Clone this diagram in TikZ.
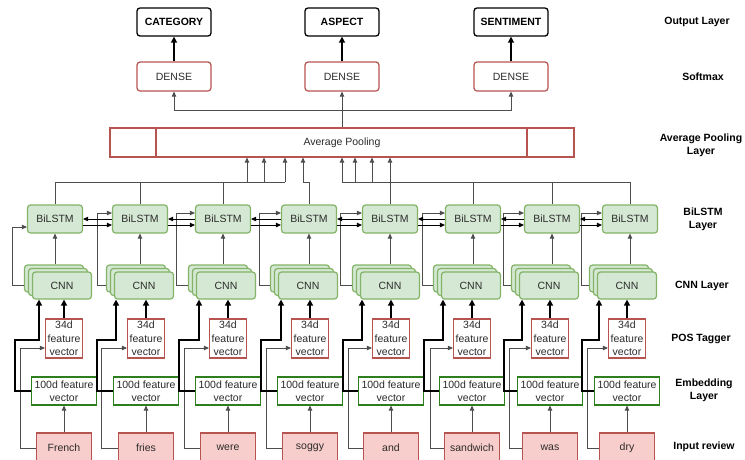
\documentclass[tikz,border=0pt]{standalone}
\usepackage{fontspec}
\setmainfont{Liberation Sans}
\usetikzlibrary{arrows.meta}
\definecolor{greenfill}{HTML}{D5E8D4}
\definecolor{greenline}{HTML}{82B366}
\definecolor{redfill}{HTML}{F8CECC}
\definecolor{redline}{HTML}{B85450}
\definecolor{embline}{HTML}{2D7F1E}
\definecolor{linegray}{HTML}{4D4D4D}
\definecolor{txtgray}{HTML}{2B2B2B}

\begin{document}
\begin{tikzpicture}[x=1pt,y=-1pt,
  every node/.style={inner sep=0pt,text=txtgray,font=\fontsize{10.5}{13.5}\selectfont},
  outbox/.style={draw=black,line width=1.3pt,rounded corners=3pt,fill=white,minimum width=74,minimum height=28,text=black,font=\bfseries\fontsize{10.5}{13.5}\selectfont},
  densebox/.style={draw=redline,line width=1.2pt,rounded corners=3pt,fill=white,minimum width=74,minimum height=29},
  poolbox/.style={draw=redline,line width=1.2pt,fill=white,minimum width=464,minimum height=29},
  bilstm/.style={draw=greenline,fill=greenfill,line width=1.2pt,rounded corners=3pt,minimum width=55,minimum height=28},
  cnnbox/.style={draw=greenline,fill=greenfill,line width=1.2pt,rounded corners=3pt,minimum width=59,minimum height=27},
  posbox/.style={draw=redline,fill=white,line width=1.2pt,minimum width=37,minimum height=39,align=center},
  embbox/.style={draw=embline,fill=white,line width=1.2pt,minimum width=65,minimum height=28,align=center},
  wordbox/.style={draw=redline,fill=redfill,line width=1.2pt,minimum width=55,minimum height=30},
  layerlabel/.style={align=center,text=black,font=\bfseries\fontsize{10.5}{13}\selectfont},
  link/.style={draw=linegray,line width=0.9pt},
  conn/.style={link,-{Triangle[length=5pt,width=4.5pt]}},
  twin/.style={draw=black,line width=1pt,-{Triangle[length=5pt,width=4.5pt]}},
  heavy/.style={draw=black,line width=1.7pt,-{Triangle[length=6pt,width=6pt]}}]
\useasboundingbox (0,0) rectangle (745,459);

% Output Layer
\node[outbox] (category) at (174,22) {CATEGORY};
\node[outbox] (aspect) at (342,22) {ASPECT};
\node[outbox] (sentiment) at (511,22) {SENTIMENT};

% Softmax
\node[densebox] (dense1) at (174,76.5) {DENSE};
\node[densebox] (dense2) at (342,76.5) {DENSE};
\node[densebox] (dense3) at (511,76.5) {DENSE};
\draw[heavy] (dense1) -- (category);
\draw[heavy] (dense2) -- (aspect);
\draw[heavy] (dense3) -- (sentiment);

% Average Pooling
\node[poolbox] (pool) at (342,142.5) {Average Pooling};
\draw[redline,line width=1.2pt] (pool.north -| 156,0) -- (pool.south -| 156,0);
\draw[redline,line width=1.2pt] (pool.north -| 527,0) -- (pool.south -| 527,0);
\draw[conn] (pool) -- (dense2);
\draw[conn] (dense2.south |- 0,110) -| (dense1.south);
\draw[conn] (dense2.south |- 0,110) -| (dense3.south);

% BiLSTM Layer
\node[bilstm] (bil1) at (55,219) {BiLSTM};
\node[bilstm] (bil2) at (140,219) {BiLSTM};
\node[bilstm] (bil3) at (223,219) {BiLSTM};
\node[bilstm] (bil4) at (309,219) {BiLSTM};
\node[bilstm] (bil5) at (390,219) {BiLSTM};
\node[bilstm] (bil6) at (473,219) {BiLSTM};
\node[bilstm] (bil7) at (552,219) {BiLSTM};
\node[bilstm] (bil8) at (630,219) {BiLSTM};

% CNN Layer (stacked)
\node[cnnbox] (cnn1c) at (54,278.5) {};
\node[cnnbox] (cnn1b) at (58,282) {};
\node[cnnbox] (cnn1) at (62,285.5) {CNN};
\node[cnnbox] (cnn2c) at (136,278.5) {};
\node[cnnbox] (cnn2b) at (140,282) {};
\node[cnnbox] (cnn2) at (144,285.5) {CNN};
\node[cnnbox] (cnn3c) at (218,278.5) {};
\node[cnnbox] (cnn3b) at (222,282) {};
\node[cnnbox] (cnn3) at (226,285.5) {CNN};
\node[cnnbox] (cnn4c) at (300,278.5) {};
\node[cnnbox] (cnn4b) at (304,282) {};
\node[cnnbox] (cnn4) at (308,285.5) {CNN};
\node[cnnbox] (cnn5c) at (382,278.5) {};
\node[cnnbox] (cnn5b) at (386,282) {};
\node[cnnbox] (cnn5) at (390,285.5) {CNN};
\node[cnnbox] (cnn6c) at (463,278.5) {};
\node[cnnbox] (cnn6b) at (467,282) {};
\node[cnnbox] (cnn6) at (471,285.5) {CNN};
\node[cnnbox] (cnn7c) at (541,278.5) {};
\node[cnnbox] (cnn7b) at (545,282) {};
\node[cnnbox] (cnn7) at (549,285.5) {CNN};
\node[cnnbox] (cnn8c) at (619,278.5) {};
\node[cnnbox] (cnn8b) at (623,282) {};
\node[cnnbox] (cnn8) at (627,285.5) {CNN};

% POS Tagger
\node[posbox] (pos1) at (64,338.5) {34d\\feature\\vector};
\node[posbox] (pos2) at (146,338.5) {34d\\feature\\vector};
\node[posbox] (pos3) at (228,338.5) {34d\\feature\\vector};
\node[posbox] (pos4) at (310,338.5) {34d\\feature\\vector};
\node[posbox] (pos5) at (391,338.5) {34d\\feature\\vector};
\node[posbox] (pos6) at (472,338.5) {34d\\feature\\vector};
\node[posbox] (pos7) at (550,338.5) {34d\\feature\\vector};
\node[posbox] (pos8) at (627,338.5) {34d\\feature\\vector};

% Embedding Layer
\node[embbox] (emb1) at (64,391) {100d feature\\vector};
\node[embbox] (emb2) at (146,391) {100d feature\\vector};
\node[embbox] (emb3) at (228,391) {100d feature\\vector};
\node[embbox] (emb4) at (310,391) {100d feature\\vector};
\node[embbox] (emb5) at (391,391) {100d feature\\vector};
\node[embbox] (emb6) at (472,391) {100d feature\\vector};
\node[embbox] (emb7) at (550,391) {100d feature\\vector};
\node[embbox] (emb8) at (627,391) {100d feature\\vector};

% Input review
\node[wordbox] (w1) at (64,448) {French};
\node[wordbox] (w2) at (146,448) {fries};
\node[wordbox] (w3) at (228,448) {were};
\node[wordbox] (w4) at (310,448) {soggy};
\node[wordbox] (w5) at (391,448) {and};
\node[wordbox] (w6) at (472,448) {sandwich};
\node[wordbox] (w7) at (550,448) {was};
\node[wordbox] (w8) at (627,448) {dry};

%Straight Lines: input -> embedding
\draw[conn] (w1) -- (emb1);
\draw[conn] (w2) -- (emb2);
\draw[conn] (w3) -- (emb3);
\draw[conn] (w4) -- (emb4);
\draw[conn] (w5) -- (emb5);
\draw[conn] (w6) -- (emb6);
\draw[conn] (w7) -- (emb7);
\draw[conn] (w8) -- (emb8);

%Straight Lines: input -> POS tagger
\draw[conn] (w1.west) -| (20,348) -- (pos1.west |- 0,348);
\draw[conn] (w2.west) -| (101,348) -- (pos2.west |- 0,348);
\draw[conn] (w3.west) -| (184,348) -- (pos3.west |- 0,348);
\draw[conn] (w4.west) -| (266,348) -- (pos4.west |- 0,348);
\draw[conn] (w5.west) -| (348,348) -- (pos5.west |- 0,348);
\draw[conn] (w6.west) -| (430,348) -- (pos6.west |- 0,348);
\draw[conn] (w7.west) -| (509,348) -- (pos7.west |- 0,348);
\draw[conn] (w8.west) -| (587,348) -- (pos8.west |- 0,348);

%Straight Lines: embedding -> CNN
\draw[heavy] (emb1.west) -| (15,340) -| (cnn1.south -| 39,0);
\draw[heavy] (emb2.west) -| (97,340) -| (cnn2.south -| 116,0);
\draw[heavy] (emb3.west) -| (179,340) -| (cnn3.south -| 199,0);
\draw[heavy] (emb4.west) -| (261,340) -| (cnn4.south -| 281,0);
\draw[heavy] (emb5.west) -| (343,340) -| (cnn5.south -| 362,0);
\draw[heavy] (emb6.west) -| (424,340) -| (cnn6.south -| 443,0);
\draw[heavy] (emb7.west) -| (504,340) -| (cnn7.south -| 522,0);
\draw[heavy] (emb8.west) -| (582,340) -| (cnn8.south -| 599,0);

%Straight Lines: POS tagger -> CNN
\draw[heavy] (pos1) -- (pos1.north |- cnn1.south);
\draw[heavy] (pos2) -- (pos2.north |- cnn2.south);
\draw[heavy] (pos3) -- (pos3.north |- cnn3.south);
\draw[heavy] (pos4) -- (pos4.north |- cnn4.south);
\draw[heavy] (pos5) -- (pos5.north |- cnn5.south);
\draw[heavy] (pos6) -- (pos6.north |- cnn6.south);
\draw[heavy] (pos7) -- (pos7.north |- cnn7.south);
\draw[heavy] (pos8) -- (pos8.north |- cnn8.south);

%Straight Lines: CNN -> BiLSTM
\draw[conn] (cnn1c.north -| bil1.south) -- (bil1);
\draw[conn] (cnn2c.north -| bil2.south) -- (bil2);
\draw[conn] (cnn3c.north -| bil3.south) -- (bil3);
\draw[conn] (cnn4c.north -| bil4.south) -- (bil4);
\draw[conn] (cnn5c.north -| bil5.south) -- (bil5);
\draw[conn] (cnn6c.north -| bil6.south) -- (bil6);
\draw[conn] (cnn7c.north -| bil7.south) -- (bil7);
\draw[conn] (cnn8c.north -| bil8.south) -- (bil8);

%Straight Lines: CNN -> BiLSTM (side)
\draw[conn] (cnn1c.west |- cnn1.west) -| (12,227) -- (bil1.west |- 0,227);
\draw[conn] (cnn2c.west |- cnn2.west) -| (97,213) -- (bil2.west |- 0,213);
\draw[conn] (cnn3c.west |- cnn3.west) -| (176,213) -- (bil3.west |- 0,213);
\draw[conn] (cnn4c.west |- cnn4.west) -| (259,213) -- (bil4.west |- 0,213);
\draw[conn] (cnn5c.west |- cnn5.west) -| (340,213) -- (bil5.west |- 0,213);
\draw[conn] (cnn6c.west |- cnn6.west) -| (422,213) -- (bil6.west |- 0,213);
\draw[conn] (cnn7c.west |- cnn7.west) -| (503,213) -- (bil7.west |- 0,213);
\draw[conn] (cnn8c.west |- cnn8.west) -| (581,213) -- (bil8.west |- 0,213);

%Straight Lines: BiLSTM <-> BiLSTM
\draw[twin] (bil2.west |- 0,219) -- (bil1.east |- 0,219);
\draw[twin] (bil1.east |- 0,225) -- (bil2.west |- 0,225);
\draw[twin] (bil3.west |- 0,219) -- (bil2.east |- 0,219);
\draw[twin] (bil2.east |- 0,225) -- (bil3.west |- 0,225);
\draw[twin] (bil4.west |- 0,219) -- (bil3.east |- 0,219);
\draw[twin] (bil3.east |- 0,225) -- (bil4.west |- 0,225);
\draw[twin] (bil5.west |- 0,219) -- (bil4.east |- 0,219);
\draw[twin] (bil4.east |- 0,225) -- (bil5.west |- 0,225);
\draw[twin] (bil6.west |- 0,219) -- (bil5.east |- 0,219);
\draw[twin] (bil5.east |- 0,225) -- (bil6.west |- 0,225);
\draw[twin] (bil7.west |- 0,219) -- (bil6.east |- 0,219);
\draw[twin] (bil6.east |- 0,225) -- (bil7.west |- 0,225);
\draw[twin] (bil8.west |- 0,219) -- (bil7.east |- 0,219);
\draw[twin] (bil7.east |- 0,225) -- (bil8.west |- 0,225);

%Straight Lines: BiLSTM -> Average Pooling
\coordinate (busleft) at (285,182);
\coordinate (busright) at (342,182);
\draw[link] (bil1.north) |- (busleft);
\draw[link] (bil2.north) -- (bil2.north |- busleft);
\draw[link] (bil3.north) -- (bil3.north |- busleft);
\draw[conn] (247,182) -- (pool.south -| 247,0);
\draw[conn] (264,182) -- (pool.south -| 264,0);
\draw[conn] (busleft) -- (pool.south -| busleft);
\draw[conn] (bil4.north) |- (303,182) -- (pool.south -| 303,0);
\draw[conn] (bil5) -- (pool.south -| bil5.north);
\draw[link] (bil8.north) |- (busright);
\draw[link] (bil6.north) -- (bil6.north |- busright);
\draw[link] (bil7.north) -- (bil7.north |- busright);
\draw[conn] (busright) -- (pool.south -| busright);
\draw[conn] (355,182) -- (pool.south -| 355,0);
\draw[conn] (372,182) -- (pool.south -| 372,0);

% Text Node
\node[layerlabel] (lblout) at (697,22) {Output Layer};
% Text Node
\node[layerlabel] (lblsoft) at (703,77) {Softmax};
% Text Node
\node[layerlabel] (lblpool) at (701,145.5) {Average Pooling\\Layer};
% Text Node
\node[layerlabel] (lblbil) at (703,219.5) {BiLSTM\\Layer};
% Text Node
\node[layerlabel] (lblcnn) at (702,286) {CNN Layer};
% Text Node
\node[layerlabel] (lblpos) at (701,339) {POS Tagger};
% Text Node
\node[layerlabel] (lblemb) at (704,390) {Embedding\\Layer};
% Text Node
\node[layerlabel] (lblin) at (704,447) {Input review};

\end{tikzpicture}
\end{document}
